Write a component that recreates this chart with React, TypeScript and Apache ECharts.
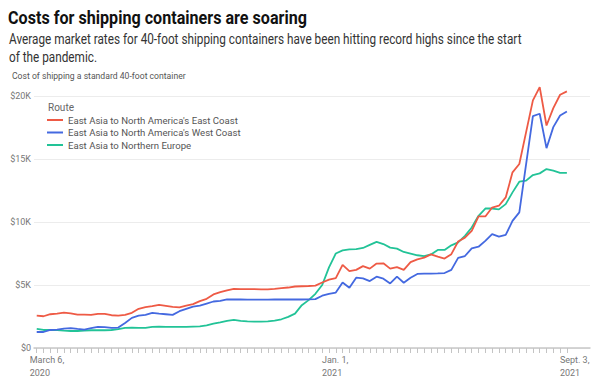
import React, { useEffect, useRef } from "react";
import * as echarts from "echarts";

// Weekly observations, March 6, 2020 (index 0) to Sept. 3, 2021 (index 78)
const eastCoast = [
  2570, 2520, 2680, 2730, 2810, 2740, 2650, 2650, 2630, 2710,
  2710, 2600, 2570, 2630, 2790, 3110, 3240, 3320, 3420, 3340,
  3260, 3220, 3370, 3480, 3720, 3900, 4250, 4430, 4570, 4700,
  4670, 4670, 4670, 4660, 4660, 4700, 4750, 4800, 4880, 4900,
  4920, 4950, 5200, 5420, 5550, 6600, 6100, 6200, 6500, 6300,
  6700, 6720, 6300, 6420, 6200, 6820, 7040, 7170, 7430, 7250,
  7100, 7450, 8450, 8760, 9290, 10440, 10440, 11150, 11290, 11950,
  13940, 14600, 17130, 19650, 20700, 17660, 19040, 20100, 20370,
];
const westCoast = [
  1270, 1270, 1430, 1460, 1540, 1570, 1510, 1460, 1570, 1670,
  1650, 1590, 1620, 1990, 2390, 2570, 2630, 2790, 2730, 2680,
  2630, 2920, 3110, 3290, 3370, 3530, 3690, 3740, 3850, 3860,
  3850, 3840, 3840, 3840, 3840, 3850, 3850, 3850, 3850, 3850,
  3860, 3880, 4150, 4300, 4400, 5200, 4780, 5580, 5530, 5310,
  5660, 5500, 5120, 5660, 5180, 5580, 5880, 5900, 5900, 5920,
  5950, 6200, 7150, 7300, 7910, 8040, 8500, 9030, 8840, 8970,
  10090, 10760, 14600, 18400, 18590, 15860, 17530, 18450, 18770,
];
const northernEurope = [
  1510, 1430, 1430, 1430, 1380, 1350, 1350, 1380, 1410, 1410,
  1410, 1430, 1490, 1590, 1620, 1590, 1590, 1670, 1700, 1670,
  1670, 1670, 1670, 1700, 1720, 1800, 1940, 2040, 2150, 2230,
  2150, 2120, 2100, 2100, 2120, 2180, 2280, 2470, 2730, 3400,
  3800, 4300, 5000, 6400, 7500, 7750, 7830, 7850, 7940, 8180,
  8420, 8250, 7970, 7890, 7620, 7490, 7360, 7300, 7430, 7780,
  7780, 8150, 8380, 8900, 9560, 10490, 11070, 11070, 11000, 11420,
  12350, 13200, 13280, 13730, 13860, 14200, 14080, 13900, 13900,
];

const seriesNames = [
  "East Asia to North America's East Coast",
  "East Asia to North America's West Coast",
  "East Asia to Northern Europe",
];
const seriesColors = ["#ee5a45", "#4469e0", "#22c397"];

const xTickIndices = [0, 43, 78];
const xTickLabels = ["March 6,\n2020", "Jan. 1,\n2021", "Sept. 3,\n2021"];

const yTicks = [0, 5000, 10000, 15000, 20000];

const titleText = "Costs for shipping containers are soaring";
const subtitleLine1 =
  "Average market rates for 40-foot shipping containers have been hitting record highs since the start";
const subtitleLine2 = "of the pandemic.";
const captionText = "Cost of shipping a standard 40-foot container";
const legendTitle = "Route";

const FONT = "Roboto, 'Noto Sans', sans-serif";

function fitScale(text: string, font: string, target: number): number {
  const c = document.createElement("canvas").getContext("2d");
  if (!c) return 1;
  c.font = font;
  const w = c.measureText(text).width;
  return w > 0 ? target / w : 1;
}

export default function App() {
  const ref = useRef<HTMLDivElement>(null);

  useEffect(() => {
    if (!ref.current) return;
    const chart = echarts.init(ref.current, null, { renderer: "svg" });
    const allSeries = [eastCoast, westCoast, northernEurope];

    const titleScale = fitScale(titleText, "bold 18px Roboto", 299);
    const subScale = fitScale(subtitleLine1, "14px Roboto", 513);
    const capScale = fitScale(captionText, "9.5px Roboto", 174);

    chart.setOption({
      animation: false,
      textStyle: { fontFamily: FONT },
      graphic: [
        {
          type: "text",
          x: 8,
          y: 9,
          scaleX: titleScale,
          style: {
            text: titleText,
            fontSize: 18,
            fontWeight: "bold",
            fill: "#111",
            fontFamily: FONT,
            align: "left",
            verticalAlign: "top",
          },
        },
        {
          type: "text",
          x: 9,
          y: 30,
          scaleX: subScale,
          style: {
            text: subtitleLine1 + "\n" + subtitleLine2,
            fontSize: 14,
            lineHeight: 18,
            fill: "#333",
            fontFamily: FONT,
            align: "left",
            verticalAlign: "top",
          },
        },
        {
          type: "text",
          x: 12,
          y: 71,
          scaleX: capScale,
          style: {
            text: captionText,
            fontSize: 9.5,
            fill: "#555",
            fontFamily: FONT,
            align: "left",
            verticalAlign: "top",
          },
        },
        {
          type: "text",
          x: 48,
          y: 102,
          style: {
            text: legendTitle,
            fontSize: 10,
            fill: "#666",
            fontFamily: FONT,
            align: "left",
            verticalAlign: "top",
          },
        },
      ],
      legend: {
        orient: "vertical",
        left: 47,
        top: 115,
        padding: 0,
        icon: "rect",
        itemWidth: 16,
        itemHeight: 2,
        itemGap: 2.5,
        textStyle: { fontSize: 9.6, color: "#555", fontFamily: FONT },
        data: seriesNames,
      },
      grid: { left: 34, right: 10, top: 96, bottom: 35 },
      xAxis: {
        type: "value",
        min: -0.4,
        max: 81.4,
        splitLine: { show: false },
        axisLine: { show: true, lineStyle: { color: "#c8c8c8", width: 1.5 } },
        axisTick: {
          show: true,
          length: 5,
          lineStyle: { color: "#c4c4c4" },
          customValues: eastCoast.map((_, i) => i),
        },
        axisLabel: {
          customValues: xTickIndices,
          align: "left",
          color: "#777",
          fontSize: 9,
          lineHeight: 13,
          margin: 5,
          padding: [0, 0, 0, -7],
          fontFamily: FONT,
          formatter: (v: number) => {
            const k = xTickIndices.indexOf(Math.round(v));
            return k >= 0 ? xTickLabels[k] : "";
          },
        },
      },
      yAxis: {
        type: "value",
        min: yTicks[0],
        max: yTicks[yTicks.length - 1],
        interval: 5000,
        axisLine: { show: false },
        axisTick: { show: false },
        splitLine: { lineStyle: { color: "#ececec", width: 1 } },
        axisLabel: {
          color: "#777",
          fontSize: 9,
          margin: 3,
          fontFamily: FONT,
          formatter: (v: number) => (v === 0 ? "$0" : "$" + v / 1000 + "K"),
        },
      },
      series: allSeries.map((data, s) => ({
        name: seriesNames[s],
        type: "line",
        data: data.map((v, i) => [i, v]),
        showSymbol: false,
        symbol: "none",
        clip: false,
        lineStyle: { width: 1.8, color: seriesColors[s] },
        itemStyle: { color: seriesColors[s] },
        z: 3 - s,
      })),
    });
    return () => chart.dispose();
  }, []);

  return (
    <div
      ref={ref}
      style={{ position: "fixed", left: 0, top: 0, width: 600, height: 383, background: "#fff" }}
    />
  );
}
